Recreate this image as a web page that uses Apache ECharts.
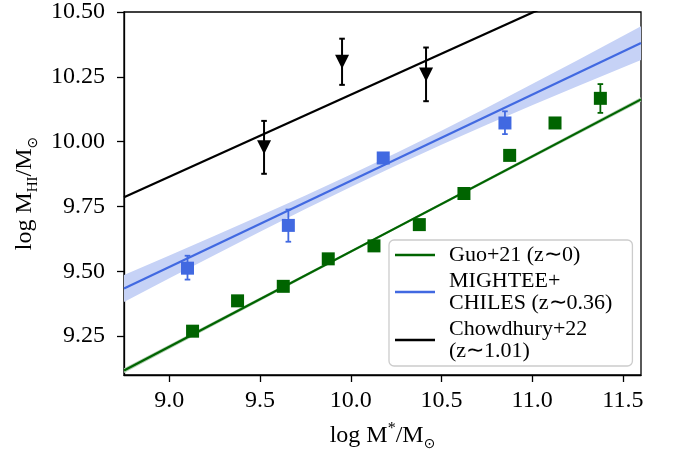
<!DOCTYPE html>
<html>
<head>
<meta charset="utf-8">
<script src="https://cdn.jsdelivr.net/npm/echarts@6/dist/echarts.min.js"></script>
<style>
html,body{margin:0;padding:0;background:#fff;}
#chart{width:673px;height:456px;}
</style>
</head>
<body>
<div id="chart"></div>
<script>
// ---- data ----
const xTicks = [9.0, 9.5, 10.0, 10.5, 11.0, 11.5];
const yTicks = [9.25, 9.5, 9.75, 10.0, 10.25, 10.5];

const legendNames = ['Guo+21 (z∼0)', 'MIGHTEE+\nCHILES (z∼0.36)', 'Chowdhury+22\n(z∼1.01)'];

// fitted relations (end points)
const greenLineX = [8.75, 11.6];
const greenLineY = [9.117, 10.163];
const blueLineX = [8.75, 11.6];
const blueLineY = [9.434, 10.380];
const blackLineX = [8.75, 11.6];
const blackLineY = [9.786, 10.687];

// confidence bands
const blueBandX = [8.75, 9.0, 9.25, 9.5, 9.75, 10.0, 10.25, 10.5, 10.75, 11.0, 11.25, 11.6];
const blueBandLo = [9.382, 9.473, 9.563, 9.652, 9.740, 9.825, 9.908, 9.988, 10.065, 10.140, 10.214, 10.315];
const blueBandHi = [9.486, 9.561, 9.637, 9.714, 9.792, 9.873, 9.956, 10.042, 10.131, 10.222, 10.314, 10.445];
const greenBandX = [8.75, 10.2, 11.6];
const greenBandLo = [9.108, 9.645, 10.155];
const greenBandHi = [9.126, 9.653, 10.171];

// Guo+21 points
const greenX = [9.128, 9.376, 9.628, 9.876, 10.128, 10.378, 10.624, 10.876, 11.126, 11.376];
const greenY = [9.269, 9.386, 9.442, 9.548, 9.598, 9.680, 9.800, 9.947, 10.072, 10.167];
const greenLo = [9.259, 9.376, 9.432, 9.538, 9.588, 9.670, 9.790, 9.937, 10.060, 10.111];
const greenHi = [9.279, 9.396, 9.452, 9.558, 9.608, 9.690, 9.810, 9.957, 10.084, 10.222];

// MIGHTEE+CHILES points
const blueX = [9.100, 9.656, 10.179, 10.850];
const blueY = [9.512, 9.677, 9.937, 10.072];
const blueLo = [9.468, 9.614, 9.925, 10.029];
const blueHi = [9.560, 9.738, 9.950, 10.117];

// Chowdhury+22 points
const blackX = [9.522, 9.952, 10.415];
const blackY = [9.978, 10.308, 10.259];
const blackLo = [9.876, 10.219, 10.156];
const blackHi = [10.080, 10.397, 10.363];

// ---- colours ----
const GREEN = '#006400', BLUE = '#4169e1', BLACK = '#000000';
const FONT = 'Liberation Serif';

const zip = (a, b) => a.map((v, i) => [v, b[i]]);
const zip3 = (a, b, c) => a.map((v, i) => [v, b[i], c[i]]);

function makeBand(xs, lo, hi, color) {
  return {
    type: 'custom', z: 1, silent: true, clip: true,
    data: zip3(xs, lo, hi),
    encode: { x: 0, y: [1, 2] },
    renderItem: function (params, api) {
      if (params.dataIndex !== 0) return null;
      const pts = [];
      for (let i = 0; i < xs.length; i++) pts.push(api.coord([xs[i], hi[i]]));
      for (let i = xs.length - 1; i >= 0; i--) pts.push(api.coord([xs[i], lo[i]]));
      return { type: 'polygon', shape: { points: pts }, style: { fill: color } };
    }
  };
}
function makeErr(xs, lo, hi, color, lw) {
  return {
    type: 'custom', z: 4, silent: true,
    data: zip3(xs, lo, hi),
    encode: { x: 0, y: [1, 2] },
    renderItem: function (params, api) {
      const x = api.value(0), l = api.value(1), h = api.value(2);
      const a = api.coord([x, l]), b = api.coord([x, h]);
      const w = 2.8;
      const st = { stroke: color, lineWidth: lw };
      return {
        type: 'group', children: [
          { type: 'line', shape: { x1: a[0], y1: a[1], x2: b[0], y2: b[1] }, style: st },
          { type: 'line', shape: { x1: a[0] - w, y1: a[1], x2: a[0] + w, y2: a[1] }, style: st },
          { type: 'line', shape: { x1: b[0] - w, y1: b[1], x2: b[0] + w, y2: b[1] }, style: st }
        ]
      };
    }
  };
}

const chart = echarts.init(document.getElementById('chart'), null, { renderer: 'canvas' });
const option = {
  animation: false,
  backgroundColor: '#ffffff',
  grid: { left: 124, right: 32, top: 7, bottom: 81, show: true, borderColor: '#000', borderWidth: 1.3, backgroundColor: 'transparent' },
  xAxis: {
    type: 'value', min: 8.75, max: 11.6,
    axisLine: { show: true, lineStyle: { color: '#000', width: 1.3 } },
    axisTick: { show: true, customValues: xTicks, length: 7, lineStyle: { color: '#000', width: 1.3 } },
    axisLabel: { customValues: xTicks, formatter: v => v.toFixed(1), color: '#000', fontFamily: FONT, fontSize: 24, margin: 14 },
    splitLine: { show: false },
    name: '{t|log M}{sup|*}{t|/M}{sub|⊙}',
    nameLocation: 'middle', nameGap: 46,
    nameTextStyle: {
      color: '#000', fontFamily: FONT, fontSize: 24,
      rich: {
        t: { fontFamily: FONT, fontSize: 24, lineHeight: 30, color: '#000' },
        sup: { fontFamily: FONT, fontSize: 16, lineHeight: 18, verticalAlign: 'top', color: '#000' },
        sub: { fontFamily: 'DejaVu Sans', fontSize: 14, lineHeight: 16, verticalAlign: 'bottom', color: '#000' }
      }
    }
  },
  yAxis: {
    type: 'value', min: 9.1, max: 10.5,
    axisLine: { show: true, lineStyle: { color: '#000', width: 1.3 } },
    axisTick: { show: true, customValues: yTicks, length: 7, lineStyle: { color: '#000', width: 1.3 } },
    axisLabel: { customValues: yTicks, formatter: v => v.toFixed(2), color: '#000', fontFamily: FONT, fontSize: 24, margin: 19 },
    splitLine: { show: false },
    name: '{t|log M}{sub|HI}{t|/M}{sub2|⊙}',
    nameLocation: 'middle', nameGap: 82, nameRotate: 90,
    nameTextStyle: {
      color: '#000', fontFamily: FONT, fontSize: 24,
      rich: {
        t: { fontFamily: FONT, fontSize: 24, lineHeight: 30, color: '#000' },
        sub: { fontFamily: FONT, fontSize: 15, lineHeight: 16, verticalAlign: 'bottom', color: '#000' },
        sub2: { fontFamily: 'DejaVu Sans', fontSize: 14, lineHeight: 16, verticalAlign: 'bottom', color: '#000' }
      }
    }
  },
  legend: {
    orient: 'vertical', left: 389, top: 240,
    data: legendNames.map(n => ({ name: n, icon: 'rect' })),
    itemWidth: 40, itemHeight: 2.5, itemGap: 4,
    padding: [4, 20, 4, 6],
    backgroundColor: 'rgba(255,255,255,0.85)',
    borderColor: '#cccccc', borderWidth: 1.3, borderRadius: 5,
    textStyle: { fontFamily: FONT, fontSize: 22, lineHeight: 22, color: '#000', padding: [0, 0, 0, 9] },
    selectedMode: false
  },
  series: [
    makeBand(blueBandX, blueBandLo, blueBandHi, '#c6d2f6'),
    makeBand(greenBandX, greenBandLo, greenBandHi, '#b3d1b3'),
    { name: legendNames[0], type: 'line', z: 2, data: zip(greenLineX, greenLineY), showSymbol: false, lineStyle: { color: GREEN, width: 2.2 }, itemStyle: { color: GREEN }, silent: true },
    { name: legendNames[1], type: 'line', z: 2, data: zip(blueLineX, blueLineY), showSymbol: false, lineStyle: { color: BLUE, width: 2.2 }, itemStyle: { color: BLUE }, silent: true },
    { name: legendNames[2], type: 'line', z: 2, data: zip(blackLineX, blackLineY), showSymbol: false, lineStyle: { color: BLACK, width: 2.2 }, itemStyle: { color: BLACK }, silent: true },
    makeErr(greenX, greenLo, greenHi, GREEN, 1.8),
    makeErr(blueX, blueLo, blueHi, BLUE, 1.8),
    makeErr(blackX, blackLo, blackHi, BLACK, 2),
    { type: 'scatter', z: 5, data: zip(greenX, greenY), symbol: 'rect', symbolSize: 13, itemStyle: { color: GREEN, opacity: 1 }, silent: true },
    { type: 'scatter', z: 5, data: zip(blueX, blueY), symbol: 'rect', symbolSize: 13, itemStyle: { color: BLUE, opacity: 1 }, silent: true },
    { type: 'scatter', z: 5, data: zip(blackX, blackY), symbol: 'triangle', symbolRotate: 180, symbolSize: 14, itemStyle: { color: BLACK, opacity: 1 }, silent: true }
  ]
};
chart.setOption(option);
</script>
</body>
</html>
